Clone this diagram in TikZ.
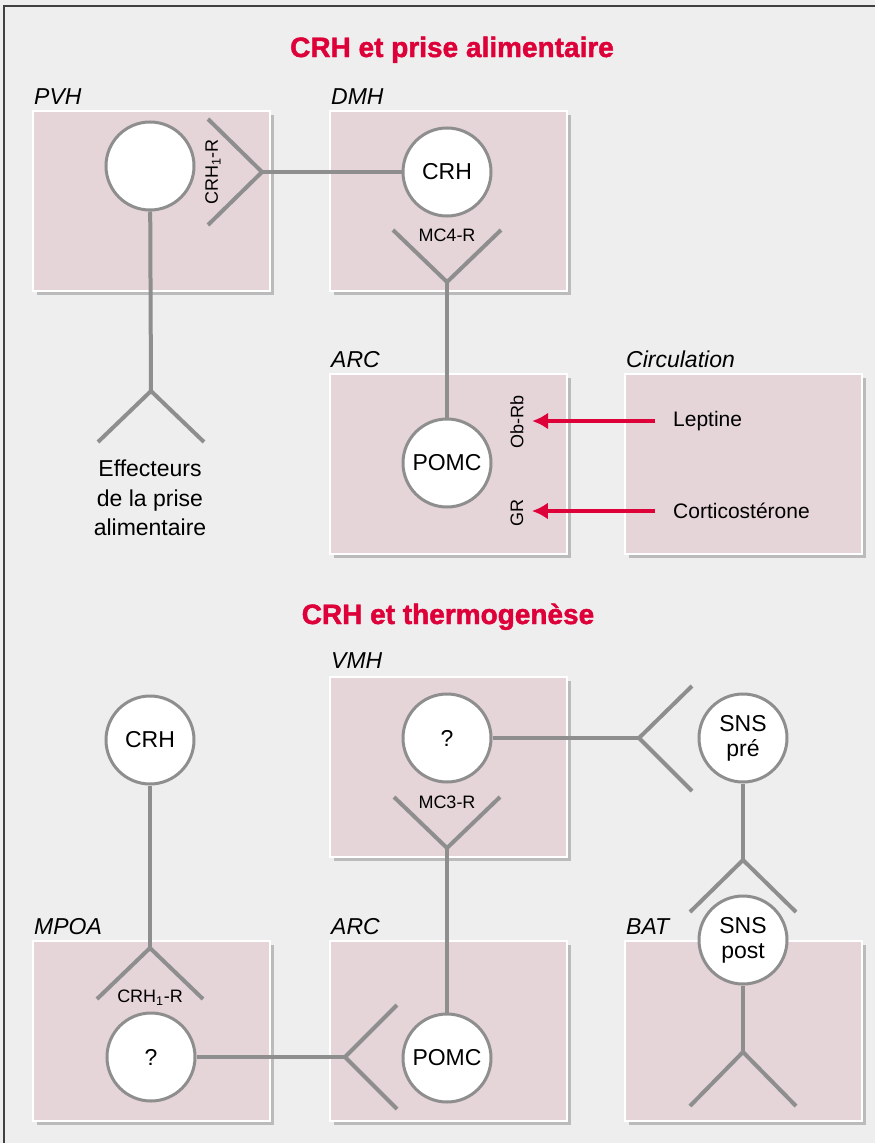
\documentclass[tikz,border=0pt]{standalone}
\usepackage{fontspec}
\setmainfont{Liberation Sans}
\newfontfamily\titrefont[FakeBold=1.6]{Liberation Sans Bold}
\usetikzlibrary{positioning,calc,arrows.meta,shadows}
\definecolor{fond}{HTML}{EEEEEE}
\definecolor{rose}{HTML}{E5D4D8}
\definecolor{trait}{HTML}{8E8E8E}
\definecolor{ombre}{HTML}{BBBBBB}
\definecolor{rouge}{HTML}{DE0038}
\tikzstyle{noyau} = [rectangle, anchor=north west, minimum width=237pt, minimum height=180pt, fill=rose, draw=white, line width=1.5pt, drop shadow={shadow xshift=4pt, shadow yshift=-4pt, fill=ombre, opacity=1}]
\tikzstyle{neurone} = [circle, minimum size=88pt, inner sep=0pt, fill=white, draw=trait, line width=3pt, font=\fontsize{23}{25}\selectfont, align=center]
\tikzstyle{ligne} = [draw=trait, line width=4pt]
\tikzstyle{fleche} = [draw=rouge, line width=3.5pt, -{Latex[length=16pt,width=17pt]}]
\tikzstyle{titre} = [text=rouge, font=\fontsize{28}{30}\selectfont\titrefont]
\tikzstyle{region} = [anchor=base west, inner sep=0pt, font=\fontsize{23}{24}\selectfont\itshape]
\tikzstyle{recepteur} = [font=\fontsize{18}{20}\selectfont]
\tikzstyle{hormone} = [anchor=west, inner sep=0pt, font=\fontsize{21}{22}\selectfont]

\begin{document}
\begin{tikzpicture}[x=1pt, y=-1pt]
\fill[fond] (0,0) rectangle (875,1143);
\useasboundingbox (0,0) rectangle (875,1143);
\draw[black!75, line width=2pt] (4,1143) -- (4,6) -- (875,6);

% titres
\node[titre, anchor=base] (t1) at (452,57) {CRH et prise alimentaire};
\node[titre, anchor=base] (t2) at (448,624) {CRH et thermogenèse};

% noyaux
\node[noyau] (pvh) at (32,110) {};
\node[noyau] (dmh) at (329,110) {};
\node[noyau] (arc1) at (329,373) {};
\node[noyau] (circ) at (624,373) {};
\node[noyau] (vmh) at (329,676) {};
\node[noyau] (mpoa) at (32,940) {};
\node[noyau] (arc2) at (329,940) {};
\node[noyau] (bat) at (624,940) {};
\node[region] (lpvh) at (34,104) {PVH};
\node[region] (ldmh) at (331,104) {DMH};
\node[region] (larc1) at (331,367) {ARC};
\node[region] (lcirc) at (626,367) {Circulation};
\node[region] (lvmh) at (331,668) {VMH};
\node[region] (lmpoa) at (34,934) {MPOA};
\node[region] (larc2) at (331,934) {ARC};
\node[region] (lbat) at (626,934) {BAT};

% prise alimentaire
\node[neurone] (n1) at (150,166) {};
\node[neurone] (crh1) at (447,172) {CRH};
\node[neurone] (pomc1) at (447,463) {POMC};
\coordinate (y1) at (262,172);
\draw[ligne] (y1) -- ++(-54,-53) (y1) -- ++(-54,53);
\draw[ligne] (y1) -- (crh1);
\node[recepteur, rotate=90] (r1) at (213,172) {CRH\textsubscript{1}-R};
\coordinate (y2) at (447,282);
\draw[ligne] (y2) -- ++(-54,-52) (y2) -- ++(54,-52);
\draw[ligne] (y2) -- (pomc1);
\node[recepteur] (r2) at (447,235) {MC4-R};
\coordinate (y3) at (151,391);
\draw[ligne] (n1) -- (y3);
\draw[ligne] (y3) -- ++(-53,51) (y3) -- ++(53,51);
\node[align=center, font=\fontsize{23}{29.5}\selectfont] (eff) at (150,498) {Effecteurs\\de la prise\\alimentaire};
\node[recepteur, rotate=90] (obrb) at (517,422) {Ob-Rb};
\node[recepteur, rotate=90] (gr) at (517,513) {GR};
\node[hormone] (lep) at (673,421) {Leptine};
\node[hormone] (cort) at (673,511) {Corticostérone};
\draw[fleche, shorten <=18pt, shorten >=5pt] (lep.west) -- (lep.west -| obrb.south);
\draw[fleche, shorten <=18pt, shorten >=5pt] (cort.west) -- (cort.west -| gr.south);

% thermogenese
\node[neurone] (crh2) at (150,740) {CRH};
\node[neurone] (q1) at (151,1057) {?};
\node[neurone] (q2) at (447,738) {?};
\node[neurone] (pomc2) at (447,1058) {POMC};
\node[neurone] (snspre) at (743,738) {SNS\\pré};
\node[neurone] (snspost) at (743,940) {SNS\\post};
\coordinate (y4) at (150,948);
\draw[ligne] (crh2) -- (y4);
\draw[ligne] (y4) -- ++(-53,51) (y4) -- ++(53,51);
\node[recepteur] (r4) at (150,998) {CRH\textsubscript{1}-R};
\coordinate (y5) at (345,1057);
\draw[ligne] (q1) -- (y5);
\draw[ligne] (y5) -- ++(52,-52) (y5) -- ++(52,52);
\coordinate (y6) at (447,848);
\draw[ligne] (y6) -- ++(-53,-51) (y6) -- ++(53,-51);
\draw[ligne] (y6) -- (pomc2);
\node[recepteur] (r6) at (447,802) {MC3-R};
\coordinate (y7) at (639,738);
\draw[ligne] (q2) -- (y7);
\draw[ligne] (y7) -- ++(53,-52) (y7) -- ++(53,53);
\coordinate (y8) at (743,860);
\draw[ligne] (snspre) -- (y8);
\draw[ligne] (y8) -- ++(-53,52) (y8) -- ++(53,52);
\coordinate (y9) at (743,1052);
\draw[ligne] (snspost) -- (y9);
\draw[ligne] (y9) -- ++(-53,54) (y9) -- ++(53,54);
\end{tikzpicture}
\end{document}
